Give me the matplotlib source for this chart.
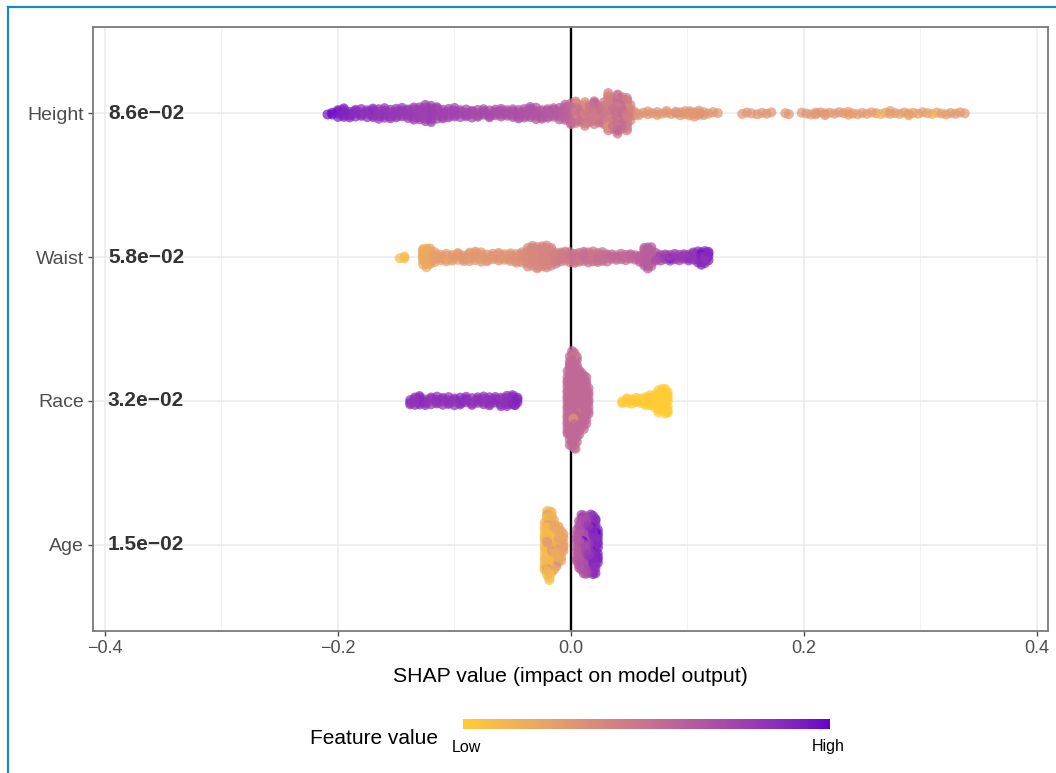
import numpy as np
import matplotlib
matplotlib.use("Agg")
import matplotlib.pyplot as plt
from matplotlib.colors import ListedColormap
from matplotlib.lines import Line2D
from matplotlib.transforms import blended_transform_factory

plt.rcParams['font.family'] = ['Liberation Sans', 'DejaVu Sans']

# ---------------- data ----------------
features = ["Height", "Waist", "Race", "Age"]
mean_abs_labels = ["8.6e\u221202", "5.8e\u221202", "3.2e\u221202", "1.5e\u221202"]
x_ticks = [-0.4, -0.2, 0.0, 0.2, 0.4]
x_ticklabels = ["\u22120.4", "\u22120.2", "0.0", "0.2", "0.4"]
x_minor = [-0.3, -0.1, 0.1, 0.3]

# SHAP value, number of observations at that value, normalised feature value
height_shap = [-0.209, -0.205, -0.200, -0.195, -0.190, -0.185, -0.180, -0.175, -0.170, -0.165,
               -0.160, -0.155, -0.150, -0.145, -0.140, -0.135, -0.130, -0.125, -0.120, -0.115,
               -0.110, -0.105, -0.100, -0.095, -0.090, -0.085, -0.080, -0.075, -0.070, -0.065,
               -0.060, -0.055, -0.050, -0.045, -0.040, -0.035, -0.030, -0.025, -0.020, -0.015,
               -0.010, -0.005, 0.000, 0.004, 0.008, 0.012, 0.016, 0.020, 0.024, 0.028,
               0.032, 0.036, 0.040, 0.044, 0.048, 0.051,
               0.054, 0.058, 0.062, 0.066, 0.070, 0.074, 0.078, 0.082, 0.086, 0.090,
               0.094, 0.098, 0.102, 0.106, 0.110, 0.114, 0.118, 0.122, 0.126,
               0.147, 0.151, 0.155, 0.160, 0.164, 0.168, 0.172, 0.184, 0.187,
               0.198, 0.202, 0.206, 0.210, 0.214, 0.218, 0.222, 0.226, 0.230, 0.234,
               0.238, 0.242, 0.246, 0.250, 0.254, 0.258, 0.262, 0.266, 0.270, 0.274,
               0.278, 0.282, 0.286, 0.290, 0.294, 0.298, 0.302, 0.306, 0.310, 0.314,
               0.318, 0.322, 0.326, 0.330, 0.334, 0.338,
               0.004, 0.012, 0.020, 0.032, 0.040, 0.048]
height_n = [1, 2, 4, 5, 4, 4, 4, 4, 5, 5,
            5, 5, 5, 5, 5, 6, 7, 8, 8, 6,
            5, 5, 5, 4, 4, 4, 4, 4, 4, 4,
            4, 4, 4, 5, 5, 6, 6, 5, 5, 5,
            6, 8, 10, 8, 8, 8, 8, 8, 8, 10,
            14, 14, 14, 14, 12, 6,
            2, 2, 1, 2, 1, 2, 1, 2, 1, 2,
            2, 2, 3, 3, 3, 2, 1, 1, 1,
            1, 1, 1, 1, 1, 1, 1, 1, 1,
            1, 1, 1, 2, 1, 2, 1, 1, 1, 1,
            2, 1, 1, 1, 1, 1, 1, 1, 1, 2,
            1, 1, 1, 2, 1, 1, 1, 1, 1, 1,
            1, 1, 1, 1, 1, 1,
            3, 3, 3, 4, 4, 3]
height_fv = [0.95, 0.97, 0.92, 0.90, 0.88, 0.86, 0.85, 0.84, 0.86, 0.82,
             0.83, 0.80, 0.81, 0.79, 0.80, 0.78, 0.77, 0.76, 0.78, 0.75,
             0.76, 0.74, 0.75, 0.73, 0.74, 0.72, 0.72, 0.71, 0.72, 0.70,
             0.70, 0.69, 0.69, 0.68, 0.67, 0.67, 0.66, 0.65, 0.64, 0.63,
             0.62, 0.60, 0.55, 0.45, 0.50, 0.42, 0.48, 0.44, 0.50, 0.46,
             0.42, 0.50, 0.45, 0.52, 0.44, 0.40,
             0.32, 0.30, 0.30, 0.31, 0.30, 0.30, 0.30, 0.30, 0.30, 0.31,
             0.30, 0.30, 0.30, 0.30, 0.30, 0.30, 0.30, 0.30, 0.30,
             0.30, 0.30, 0.30, 0.30, 0.30, 0.30, 0.30, 0.30, 0.30,
             0.30, 0.30, 0.28, 0.30, 0.30, 0.30, 0.28, 0.30, 0.30, 0.28,
             0.27, 0.28, 0.26, 0.28, 0.27, 0.26, 0.28, 0.15, 0.26, 0.25,
             0.26, 0.25, 0.26, 0.25, 0.24, 0.25, 0.26, 0.24, 0.15, 0.25,
             0.26, 0.27, 0.28, 0.28, 0.28, 0.28,
             0.30, 0.32, 0.62, 0.30, 0.60, 0.32]

waist_shap = [-0.147, -0.143, -0.127, -0.124, -0.121,
              -0.117, -0.112, -0.107, -0.102, -0.097, -0.092, -0.087, -0.082, -0.077, -0.072,
              -0.067, -0.062, -0.057, -0.052, -0.047, -0.042,
              -0.037, -0.033, -0.029, -0.025, -0.021, -0.017,
              -0.013, -0.009, -0.005, -0.001, 0.003, 0.007, 0.011, 0.015, 0.019, 0.023, 0.027,
              0.031, 0.035, 0.039, 0.043, 0.047, 0.051, 0.055, 0.059,
              0.063, 0.066, 0.069,
              0.073, 0.077, 0.081, 0.085, 0.089, 0.093, 0.097, 0.101, 0.105,
              0.109, 0.112, 0.115, 0.118,
              0.085, 0.101, 0.116, 0.112]
waist_n = [1, 2, 7, 8, 7,
           5, 4, 4, 4, 4, 4, 5, 5, 5, 4,
           4, 4, 4, 4, 5, 6,
           9, 10, 10, 10, 10, 9,
           6, 5, 5, 5, 5, 5, 5, 5, 5, 5, 5,
           4, 3, 3, 3, 3, 3, 3, 4,
           8, 9, 8,
           4, 3, 3, 3, 3, 3, 3, 3, 4,
           5, 5, 5, 4,
           1, 1, 1, 1]
waist_fv = [0.08, 0.10, 0.20, 0.18, 0.22,
            0.25, 0.27, 0.25, 0.28, 0.27, 0.30, 0.28, 0.30, 0.28, 0.30,
            0.30, 0.32, 0.30, 0.33, 0.33, 0.35,
            0.36, 0.38, 0.36, 0.40, 0.38, 0.40,
            0.42, 0.45, 0.42, 0.48, 0.50, 0.46, 0.52, 0.50, 0.48, 0.52, 0.50,
            0.52, 0.55, 0.52, 0.55, 0.55, 0.58, 0.56, 0.60,
            0.60, 0.62, 0.60,
            0.70, 0.75, 0.78, 0.76, 0.80, 0.78, 0.80, 0.82, 0.82,
            0.85, 0.88, 0.82, 0.90,
            1.00, 1.00, 1.00, 1.00]

race_shap = [-0.138, -0.134, -0.130, -0.125, -0.120, -0.115, -0.110, -0.105, -0.100, -0.095,
             -0.090, -0.085, -0.080, -0.075, -0.070, -0.065, -0.060, -0.055, -0.050, -0.046,
             -0.131, -0.071, -0.048,
             -0.003, -0.001, 0.001, 0.003, 0.005, 0.007, 0.009, 0.011, 0.013, 0.015,
             0.002, 0.004,
             0.044, 0.048, 0.052, 0.056, 0.060, 0.064, 0.068, 0.072, 0.075, 0.078, 0.081, 0.083]
race_n = [3, 4, 4, 4, 4, 4, 4, 4, 4, 4,
          4, 4, 4, 4, 4, 4, 5, 6, 5, 3,
          1, 1, 1,
          20, 23, 23, 23, 22, 16, 14, 14, 13, 8,
          3, 2,
          2, 3, 3, 3, 3, 4, 5, 6, 9, 9, 9, 7]
race_fv = [0.85, 0.82, 0.88, 0.84, 0.82, 0.85, 0.83, 0.84, 0.82, 0.86,
           0.84, 0.82, 0.85, 0.83, 0.84, 0.86, 0.83, 0.84, 0.88, 0.90,
           1.00, 1.00, 1.00,
           0.55, 0.55, 0.55, 0.55, 0.55, 0.55, 0.55, 0.55, 0.55, 0.55,
           0.30, 0.35,
           0.00, 0.02, 0.00, 0.02, 0.00, 0.00, 0.02, 0.00, 0.00, 0.00, 0.00, 0.00]

age_shap = [-0.0225, -0.0205, -0.0185, -0.0165, -0.0145, -0.0125, -0.0105, -0.0085, -0.0065,
            -0.0205, -0.0165, -0.0125,
            0.005, 0.007, 0.009, 0.011, 0.013, 0.015, 0.017, 0.019, 0.021, 0.023,
            0.010, 0.017, 0.021]
age_n = [15, 14, 18, 13, 12, 7, 10, 9, 6,
         4, 4, 3,
         10, 13, 14, 14, 14, 15, 12, 15, 12, 11,
         2, 3, 3]
age_fv = [0.10, 0.12, 0.08, 0.15, 0.20, 0.18, 0.22, 0.20, 0.25,
          0.30, 0.30, 0.35,
          0.62, 0.65, 0.70, 0.68, 0.72, 0.80, 0.85, 0.88, 0.85, 0.90,
          1.00, 1.00, 1.00]

feature_data = {
    "Height": (height_shap, height_n, height_fv),
    "Waist": (waist_shap, waist_n, waist_fv),
    "Race": (race_shap, race_n, race_fv),
    "Age": (age_shap, age_n, age_fv),
}

# ---------------- colour scale (Lab interpolation, like ggplot) ----------------
def _hex2rgb(h):
    h = h.lstrip('#')
    return np.array([int(h[i:i + 2], 16) / 255 for i in (0, 2, 4)])

_M = np.array([[0.4124564, 0.3575761, 0.1804375],
               [0.2126729, 0.7151522, 0.0721750],
               [0.0193339, 0.1191920, 0.9503041]])
_WHITE = np.array([0.95047, 1.0, 1.08883])

def rgb2lab(rgb):
    c = np.where(rgb <= 0.04045, rgb / 12.92, ((rgb + 0.055) / 1.055) ** 2.4)
    xyz = (_M @ c) / _WHITE
    f = np.where(xyz > 0.008856, np.cbrt(xyz), 7.787 * xyz + 16 / 116)
    return np.array([116 * f[1] - 16, 500 * (f[0] - f[1]), 200 * (f[1] - f[2])])

def lab2rgb(lab):
    L, a, b = lab
    fy = (L + 16) / 116
    fx = fy + a / 500
    fz = fy - b / 200
    f = np.array([fx, fy, fz])
    xyz = np.where(f ** 3 > 0.008856, f ** 3, (f - 16 / 116) / 7.787) * _WHITE
    c = np.linalg.inv(_M) @ xyz
    c = np.clip(c, 0, 1)
    return np.where(c <= 0.0031308, 12.92 * c, 1.055 * c ** (1 / 2.4) - 0.055)

lab_lo = rgb2lab(_hex2rgb("#FFCC33"))
lab_hi = rgb2lab(_hex2rgb("#6600CC"))
cols = [np.clip(lab2rgb(lab_lo + t * (lab_hi - lab_lo)), 0, 1) for t in np.linspace(0, 1, 256)]
cmap = ListedColormap(cols)

# ---------------- figure ----------------
W, H = 1056, 773
fig = plt.figure(figsize=(W / 100, H / 100), dpi=100)
ax = fig.add_axes([93 / W, 1 - 631 / H, (1047.7 - 93) / W, (631 - 27) / H])
ax.set_xlim(-0.4103, 0.4092)
ax.set_ylim(0.4, 4.6)

ypos = {f: len(features) - i for i, f in enumerate(features)}

# sina-like vertical spread from local density of points
BW = 0.0015
PX_PER_DENS = 4.8          # px of half-width per (point / px)
x_px_per_unit = 954.7 / (0.4092 + 0.4103)
y_unit_per_px = 4.2 / 604
golden = 0.6180339887

all_x, all_y, all_c = [], [], []
for f in features:
    shap, n, fv = feature_data[f]
    xs = np.repeat(np.asarray(shap, float), n)
    cs = np.repeat(np.asarray(fv, float), n)
    order = np.argsort(xs, kind="stable")
    xs, cs = xs[order], cs[order]
    d = np.exp(-0.5 * ((xs[:, None] - xs[None, :]) / BW) ** 2).sum(1) / (BW * np.sqrt(2 * np.pi))
    hw = PX_PER_DENS * (d / x_px_per_unit) * y_unit_per_px
    hw = np.minimum(hw, 0.35)
    idx = np.arange(len(xs))
    u = 2 * ((idx * golden) % 1.0) - 1
    all_x.append(xs)
    all_y.append(ypos[f] + hw * u)
    all_c.append(cs)

all_x = np.concatenate(all_x)
all_y = np.concatenate(all_y)
all_c = np.concatenate(all_c)
perm = np.argsort((np.arange(len(all_x)) * 0.7548776662) % 1.0)

ax.axvline(0, color="black", lw=1.7, zorder=2)
ax.scatter(all_x[perm], all_y[perm], c=all_c[perm], cmap=cmap, vmin=0, vmax=1,
           s=52, alpha=0.72, linewidths=0, zorder=3)

# axes styling (theme_bw-like)
ax.set_xticks(x_ticks)
ax.set_xticklabels(x_ticklabels)
ax.set_xticks(x_minor, minor=True)
ax.set_yticks([ypos[f] for f in features])
ax.set_yticklabels(features)
ax.grid(which="major", color="#EBEBEB", lw=1.1)
ax.grid(which="minor", axis="x", color="#F2F2F2", lw=0.7)
ax.set_axisbelow(True)
for s in ax.spines.values():
    s.set_color("#7A7A7A")
    s.set_linewidth(1.3)
ax.tick_params(which="major", length=3.5, width=1.0, color="#4D4D4D",
               labelsize=13, labelcolor="#4D4D4D", pad=3)
ax.tick_params(axis="y", labelsize=14)
ax.tick_params(which="minor", length=0)

tr = blended_transform_factory(ax.transAxes, ax.transData)
for f, lab in zip(features, mean_abs_labels):
    ax.text(0.0157, ypos[f], lab, transform=tr, ha="left", va="center",
            fontsize=15, fontweight="bold", color="#333333", zorder=4)

fig.text(570 / W, 1 - 676 / H, "SHAP value (impact on model output)",
         ha="center", va="center", fontsize=15.3, color="black")

# colour legend
cax = fig.add_axes([463 / W, 1 - 729 / H, 367 / W, 10 / H])
cax.imshow(np.linspace(0, 1, 256)[None, :], aspect="auto", cmap=cmap, extent=[0, 1, 0, 1])
cax.axis("off")
fig.text(438 / W, 1 - 739 / H, "Feature value", ha="right", va="center", fontsize=15)
fig.text(466 / W, 1 - 747 / H, "Low", ha="center", va="center", fontsize=11.5)
fig.text(828 / W, 1 - 747 / H, "High", ha="center", va="center", fontsize=11.5)

# blue frame of the screenshot
fig.add_artist(Line2D([8 / W, 8 / W], [0, 1 - 7 / H], transform=fig.transFigure,
                      color="#1A8AC5", lw=1.6))
fig.add_artist(Line2D([8 / W, 1], [1 - 7 / H, 1 - 7 / H], transform=fig.transFigure,
                      color="#1A8AC5", lw=1.6))

fig.savefig("out.png", dpi=100, facecolor="white")
